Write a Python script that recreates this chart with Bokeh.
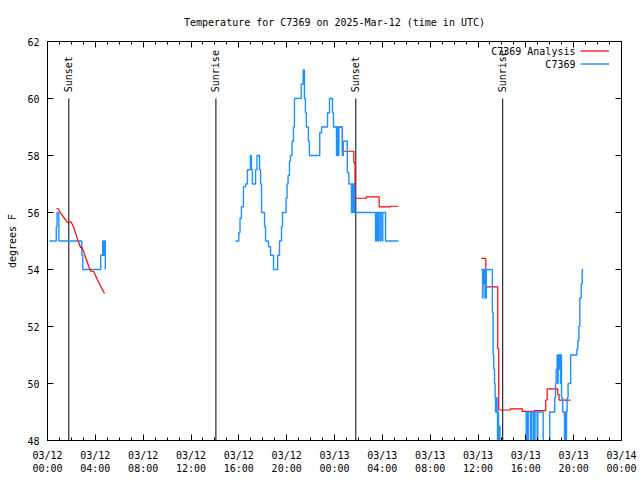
from datetime import datetime, timedelta
from math import pi

from bokeh.plotting import figure
from bokeh.models import (Range1d, FixedTicker, DatetimeTickFormatter, DatetimeAxis,
                          LinearAxis, Legend, LegendItem, Label, ColumnDataSource,
                          CustomJSTickFormatter)
from bokeh.core.properties import value
from bokeh.embed import file_html
from bokeh.resources import INLINE

# ---------------- data (minutes after 2025-03-12 00:00 UTC) ----------------
BASE = datetime(2025, 3, 12)

blue1_min = [10, 44, 48, 57, 172, 177, 267, 277, 280, 282, 285, 287, 290]
blue1_val = [55.0, 55.5, 56.0, 55.0, 54.5, 54.0, 54.5, 55.0, 54.5, 55.0, 54.5, 55.0, 54.0]

red1_min = [45, 53, 65, 99, 119, 132, 149, 166, 174, 191, 216, 232, 249, 286]
red1_val = [56.14, 56.14, 55.99, 55.66, 55.66, 55.47, 55.10, 54.77, 54.77, 54.42,
            53.95, 53.93, 53.66, 53.16]

blue2_min = [943, 960, 966, 973, 983, 993, 1003, 1018, 1023, 1028, 1044, 1051, 1064,
             1069, 1074, 1089, 1094, 1109, 1119, 1134, 1155, 1164, 1174, 1179, 1197,
             1202, 1207, 1214, 1219, 1227, 1234, 1239, 1273, 1283, 1289, 1294, 1299,
             1309, 1314, 1366, 1375, 1405, 1415, 1430, 1435, 1450, 1452, 1455, 1457,
             1460, 1462, 1479, 1484, 1504, 1512, 1525, 1527, 1530, 1532, 1535, 1537,
             1540, 1646, 1648, 1651, 1653, 1660, 1662, 1670, 1672, 1680, 1682, 1696,
             1761]
blue2_val = [55.0, 55.3, 55.8, 56.2, 56.9, 57.0, 57.5, 58.0, 57.5, 57.0, 57.5, 58.0, 57.5,
             57.0, 56.0, 55.5, 55.0, 54.8, 54.5, 54.0, 54.5, 55.0, 55.5, 56.0, 56.5,
             57.0, 57.3, 57.8, 58.0, 58.5, 59.0, 60.0, 60.5, 61.0, 60.0, 59.5, 59.0,
             58.5, 58.0, 58.8, 59.0, 59.5, 60.0, 59.5, 59.0, 58.0, 59.0, 58.0, 59.0,
             58.0, 59.0, 58.0, 58.5, 57.4, 57.0, 56.0, 57.0, 56.0, 57.0, 56.0, 57.0,
             56.0, 55.0, 56.0, 55.0, 56.0, 55.0, 56.0, 55.0, 56.0, 55.0, 56.0, 55.0,
             55.0]

red2_min = [1440, 1480, 1537, 1543, 1600, 1664, 1721, 1761]
red2_val = [59.0, 58.15, 57.75, 56.5, 56.55, 56.2, 56.22, 56.22]

blue3_min = [2177, 2183, 2185, 2187, 2190, 2195, 2197, 2200, 2202, 2232, 2236, 2239,
             2243, 2246, 2248, 2250, 2252, 2254, 2256, 2258, 2261, 2263, 2267, 2270,
             2402, 2405, 2410, 2412, 2423, 2425, 2428, 2437, 2440, 2443, 2446, 2457,
             2460, 2487, 2520, 2545, 2549, 2552, 2557, 2560, 2562, 2565, 2568, 2574,
             2577, 2579, 2585, 2594, 2596, 2599, 2604, 2607, 2612, 2625, 2656, 2661,
             2666, 2671, 2678, 2683, 2688]
blue3_val = [54.0, 53.0, 54.0, 53.5, 54.0, 53.0, 54.0, 53.0, 54.0, 52.5, 51.0, 50.5,
             50.0, 49.5, 49.0, 49.5, 49.0, 49.5, 49.0, 47.5, 49.0, 47.5, 48.5, 47.5,
             49.0, 47.5, 49.0, 47.5, 49.0, 47.5, 49.0, 47.5, 49.0, 47.5, 49.0, 47.5,
             49.0, 47.5, 49.0, 49.5, 50.0, 50.5, 51.0, 50.0, 51.0, 50.5, 51.0, 50.0,
             51.0, 49.5, 49.0, 47.5, 49.0, 47.5, 49.0, 49.5, 50.0, 51.0, 51.2, 51.5,
             52.0, 53.0, 53.5, 54.0, 54.0]

red3_min = [2177, 2199, 2202, 2259, 2264, 2323, 2382, 2443, 2500, 2507, 2560, 2567, 2624]
red3_val = [54.39, 53.9, 53.39, 51.23, 49.07, 49.11, 49.02, 49.05, 49.42, 49.81, 49.61,
            49.42, 49.42]

sun_min = [107, 845, 1547, 2284]
sun_labels = ["Sunset", "Sunrise", "Sunset", "Sunrise"]

y_ticks = [48, 50, 52, 54, 56, 58, 60, 62]
legend_labels = ["C7369 Analysis", "C7369"]

TITLE = "Temperature for C7369 on 2025-Mar-12 (time in UTC)"
Y_LABEL = "degrees F"

# ---------------- helpers / styles ----------------
EPOCH = datetime(1970, 1, 1)
FONT = "DejaVu Sans Mono"
RED = "#ff0000"
BLUE = "#1e90ff"


def ms(minutes):
    return ((BASE + timedelta(minutes=minutes)) - EPOCH).total_seconds() * 1000.0


def times(mins):
    return [BASE + timedelta(minutes=m) for m in mins]


p = figure(width=640, height=480, x_axis_type="datetime",
           x_range=Range1d(ms(0), ms(48 * 60)), y_range=Range1d(48, 62),
           output_backend="svg", toolbar_location=None,
           min_border_left=47, min_border_right=19, min_border_top=40,
           min_border_bottom=40)

p.background_fill_color = "white"
p.border_fill_color = "white"
p.outline_line_color = "black"
p.outline_line_width = 1
p.xgrid.visible = False
p.ygrid.visible = False

p.title.text = TITLE
p.title.align = "center"
p.title.text_font = FONT
p.title.text_font_size = "10px"
p.title.text_font_style = "normal"
p.title.text_color = "black"
p.title.standoff = 28

x_ticker = FixedTicker(ticks=[ms(h * 60) for h in range(0, 49, 4)],
                       minor_ticks=[ms(h * 60) for h in range(0, 49)])
y_ticker = FixedTicker(ticks=y_ticks, minor_ticks=[])
fmt_str = "%m/%d\n%H:%M"
x_fmt = DatetimeTickFormatter(microseconds=fmt_str, milliseconds=fmt_str, seconds=fmt_str,
                              minsec=fmt_str, minutes=fmt_str, hourmin=fmt_str,
                              hours=fmt_str, days=fmt_str, months=fmt_str, years=fmt_str)

xa = p.xaxis[0]
xa.ticker = x_ticker
xa.formatter = x_fmt
ya = p.yaxis[0]
ya.ticker = y_ticker
ya.axis_label = Y_LABEL
ya.axis_label_text_font = FONT
ya.axis_label_text_font_size = "10px"
ya.axis_label_text_font_style = "normal"
ya.axis_label_text_color = "black"
ya.axis_label_standoff = 6
xa.major_label_standoff = 9
ya.major_label_standoff = 8

for ax in (xa, ya):
    ax.major_label_text_font = FONT
    ax.major_label_text_font_size = "10px"
    ax.major_label_text_color = "black"
    ax.major_tick_in = 6
    ax.major_tick_out = 0
    ax.minor_tick_in = 3
    ax.minor_tick_out = 0
    ax.axis_line_color = "black"
    ax.major_tick_line_color = "black"
    ax.minor_tick_line_color = "black"

blank = CustomJSTickFormatter(code="return ''")
top_ax = DatetimeAxis(ticker=x_ticker, formatter=blank, major_label_standoff=0,
                      major_tick_in=6, major_tick_out=0, minor_tick_in=3, minor_tick_out=0)
right_ax = LinearAxis(ticker=y_ticker, formatter=blank, major_label_standoff=0,
                      major_tick_in=6, major_tick_out=0, minor_tick_in=0, minor_tick_out=0)
p.add_layout(top_ax, "above")
p.add_layout(right_ax, "right")

# ---------------- sunrise / sunset markers ----------------
sun_src = ColumnDataSource(dict(x=times(sun_min), label=sun_labels,
                                top=[60.0] * len(sun_min), bot=[48.0] * len(sun_min),
                                ty=[60.22] * len(sun_min)))
p.segment(x0="x", x1="x", y0="top", y1="bot", source=sun_src, line_color="black",
          line_width=1)
p.text(x="x", y="ty", text="label", source=sun_src, angle=pi / 2, text_align="left",
       text_baseline="middle", text_font=value(FONT), text_font_size="10px",
       text_color="black")

# ---------------- series ----------------
red_r = p.line(times(red1_min), red1_val, line_color=RED, line_width=1.2)
p.step(times(red2_min), red2_val, mode="after", line_color=RED, line_width=1.2)
p.step(times(red3_min), red3_val, mode="after", line_color=RED, line_width=1.2)

blue_r = p.step(times(blue1_min), blue1_val, mode="after", line_color=BLUE, line_width=1.4)
p.step(times(blue2_min), blue2_val, mode="after", line_color=BLUE, line_width=1.4)
p.step(times(blue3_min), blue3_val, mode="after", line_color=BLUE, line_width=1.4)

# red series drawn above blue where they overlap
p.renderers.append(p.renderers.pop(p.renderers.index(red_r)))

# ---------------- legend (samples right, text left, gnuplot style) ----------------
legend = Legend(items=[LegendItem(label=" ", renderers=[red_r]),
                       LegendItem(label=" ", renderers=[blue_r])],
                location="top_right", margin=3, padding=0, spacing=0,
                glyph_width=29, glyph_height=13, label_height=13, label_width=9,
                label_standoff=0, label_text_font_size="10px",
                border_line_color=None, background_fill_alpha=0)
p.add_layout(legend)

for lbl, yv in zip(legend_labels, [61.65, 61.195]):
    p.add_layout(Label(x=ms(2649), y=yv, text=lbl, text_align="right",
                       text_baseline="middle", text_font=FONT, text_font_size="10px",
                       text_color="black"))

open("out.html", "w").write(file_html(p, INLINE))
